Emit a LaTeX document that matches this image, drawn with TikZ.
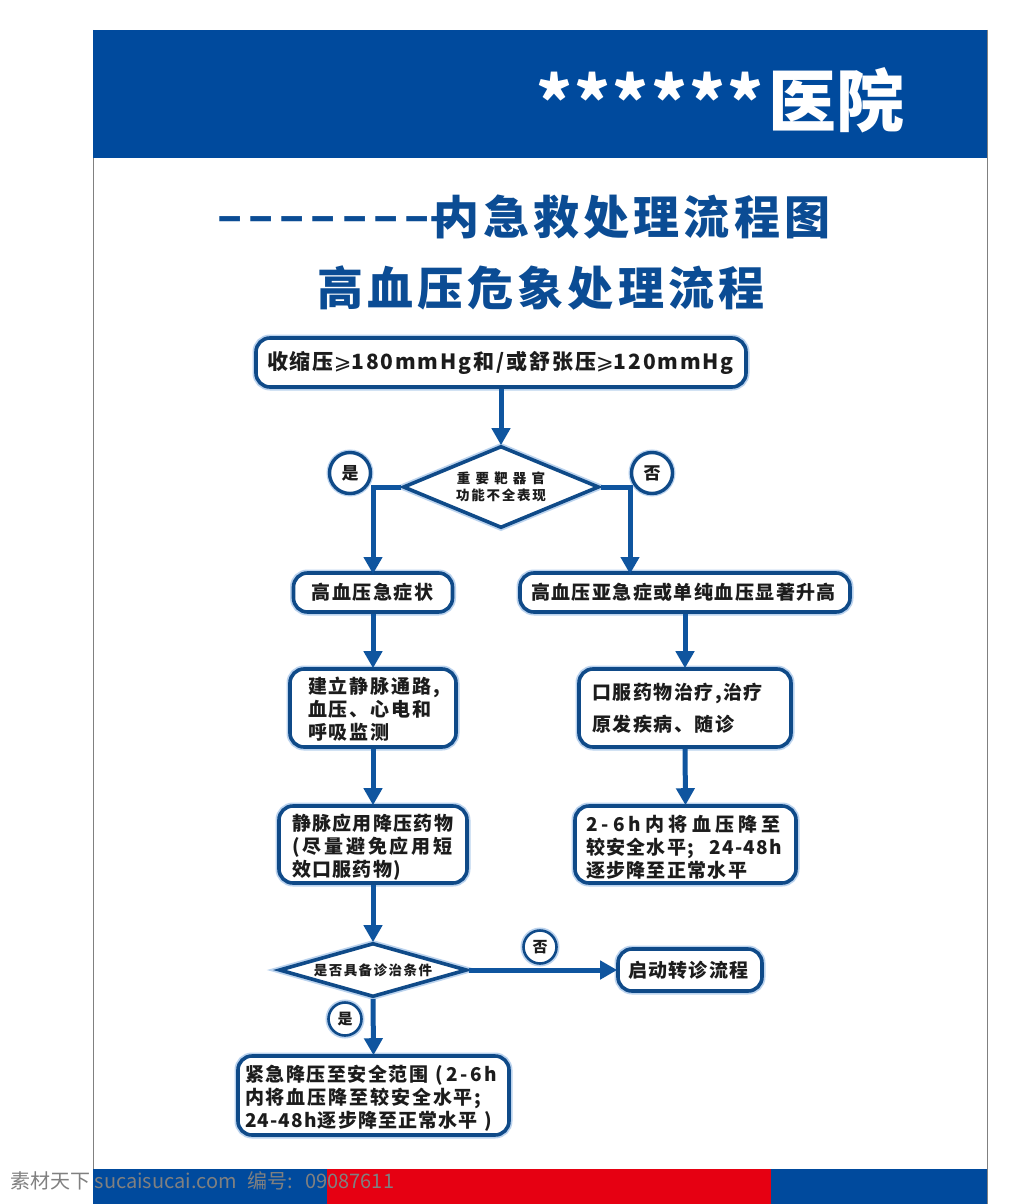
\documentclass[tikz,border=0pt]{standalone}
\usepackage{fontspec}
\usetikzlibrary{arrows.meta,shapes.geometric}
\newfontfamily\cjk{Noto Sans CJK SC}
\newfontfamily\djv{DejaVu Sans}
\newcommand{\lsp}[2]{{\addfontfeature{LetterSpace=#1}#2}}
\newcommand{\gesym}{{\djv\mdseries ⩾}}
\newcommand{\dn}[1]{\rule{0pt}{#1pt}}
\definecolor{hdblue}{HTML}{004A9D}
\definecolor{ttblue}{HTML}{0B4C94}
\definecolor{edgeblue}{HTML}{0F4A88}
\definecolor{arrblue}{HTML}{0F559F}
\definecolor{glowblue}{HTML}{BBD3EE}
\definecolor{inkk}{HTML}{1C1C1C}
\definecolor{redbar}{HTML}{E60012}
\tikzset{
  glow/.style={preaction={draw=glowblue,line width=7pt}},
  flowbox/.style={draw=edgeblue,line width=3.6pt,fill=white,rounded corners=14pt,glow,
    align=left,inner ysep=0pt,text=inkk,
    font=\cjk\bfseries\fontsize{19}{23}\selectfont},
  flowdia/.style={diamond,draw=edgeblue,line width=3.6pt,fill=white,glow,align=center,inner sep=0pt,text=inkk},
  flowcirc/.style={circle,draw=edgeblue,line width=3.4pt,fill=white,inner sep=0pt,text=inkk,
    preaction={draw=glowblue,line width=6pt},font=\cjk\bfseries\fontsize{17}{20}\selectfont},
  flowarr/.style={draw=arrblue,line width=5pt,-{Triangle[length=17pt,width=18pt]},shorten >=-1pt},
  titletext/.style={text=ttblue,inner sep=0pt,font=\cjk\bfseries\fontsize{46}{50}\selectfont}
}
\begin{document}
\begin{tikzpicture}[x=1pt,y=-1pt]
\useasboundingbox (0,0) rectangle (1024,1204);
\fill[white] (0,0) rectangle (1024,1204);
% page frame and bands
\draw[gray,line width=1pt] (93,30) -- (93,1204);
\draw[gray,line width=1pt] (987,30) -- (987,1204);
\fill[hdblue] (93,30) rectangle (987,158);
\fill[hdblue] (93,1169) rectangle (327,1204);
\fill[redbar] (327,1169) rectangle (771,1204);
\fill[hdblue] (771,1169) rectangle (987,1204);
% header
\node[anchor=west,inner sep=0pt,text=white,font=\cjk\bfseries\fontsize{68}{72}\selectfont] (hdstar) at (536,100) {\lsp{3.5}{******}};
\node[anchor=west,inner sep=0pt,text=white,font=\cjk\bfseries\fontsize{68}{72}\selectfont] (hdname) at (768,100) {医院};
% titles
\node[titletext,anchor=west] (t1) at (217,225) {\lsp{13}{–––––––}–};
\node[titletext,anchor=west] (t1b) at (433,217) {\lsp{9}{内急救处理流程图}};
\node[titletext,anchor=west] (t2) at (317,288) {\lsp{9}{高血压危象处理流程}};
% boxes
\node[flowbox,minimum width=490pt,minimum height=49pt,text width=476pt,inner xsep=7pt,font=\cjk\bfseries\fontsize{21}{24}\selectfont] (b1) at (501,362.5)
  {\hspace{4pt}\lsp{9}{收缩压\gesym{}180mmHg和/或舒张压\gesym{}120mmHg}};
\node[flowdia,minimum width=196pt,minimum height=82pt,aspect=2.4,font=\cjk\bfseries\fontsize{13.5}{17}\selectfont] (d1) at (501,487)
  {\lsp{38}{重要靶器官}\\\lsp{13}{功能不全表现}};
\node[flowcirc,minimum size=41pt] (yes1) at (350,473) {是};
\node[flowcirc,minimum size=41pt] (no1) at (652,473) {否};
\node[flowbox,minimum width=159pt,minimum height=39pt,text width=123pt,inner xsep=18pt] (b2) at (373,592.5) {\lsp{8}{高血压急症状}};
\node[flowbox,minimum width=330pt,minimum height=39pt,text width=308pt,inner xsep=11pt] (b3) at (685,592.5) {\lsp{7.5}{高血压亚急症或单纯血压显著升高}};
\node[flowbox,minimum width=166pt,minimum height=78pt,text width=130pt,inner xsep=18pt] (b4) at (373,708)
  {\dn{19}\lsp{10}{建立静脉通路,}\\\lsp{10}{血压、心电和}\\\lsp{10}{呼吸监测}};
\node[flowbox,minimum width=212pt,minimum height=78pt,text width=186pt,inner xsep=13pt,font=\cjk\bfseries\fontsize{19}{32}\selectfont] (b5) at (685,708)
  {\lsp{8}{口服药物治疗,治疗}\\\lsp{8}{原发疾病、随诊}};
\node[flowbox,minimum width=188pt,minimum height=77pt,text width=162pt,inner xsep=13pt] (b6) at (373,844.5)
  {\dn{21}\lsp{7}{静脉应用降压药物}\\\lsp{15}{(尽量避免应用短}\\\lsp{7}{效口服药物)}};
\node[flowbox,minimum width=221pt,minimum height=77pt,text width=199pt,inner xsep=11pt] (b7) at (685.5,844.5)
  {\dn{21}\lsp{22}{2-6h内将血压降至}\\\lsp{7}{较安全水平;}\hspace{15pt}\lsp{7}{24-48h}\\\lsp{7}{逐步降至正常水平}};
\node[flowdia,minimum width=188pt,minimum height=54pt,aspect=3.4,font=\cjk\bfseries\fontsize{13.5}{16}\selectfont] (d2) at (373,970)
  {\lsp{11}{是否具备诊治条件}};
\node[flowcirc,minimum size=33pt,line width=2.6pt,font=\cjk\bfseries\fontsize{15}{18}\selectfont] (no2) at (540,947) {否};
\node[flowcirc,minimum size=33pt,line width=2.6pt,font=\cjk\bfseries\fontsize{15}{18}\selectfont] (yes2) at (345,1019) {是};
\node[flowbox,minimum width=140pt,minimum height=42pt,text width=124pt,inner xsep=10pt] (b8) at (690,970) {\lsp{7}{启动转诊流程}};
\node[flowbox,minimum width=271pt,minimum height=79pt,text width=257pt,inner xsep=7pt] (b9) at (373.5,1095.5)
  {\dn{21}\lsp{8}{紧急降压至安全范围}\hspace{7pt}(\hspace{4pt}\lsp{12}{2-6h}\\\lsp{10}{内将血压降至较安全水平;}\\\lsp{6}{24-48h逐步降至正常水平}\hspace{7pt})};
% connectors
\coordinate (jl) at (373,573);
\coordinate (jr) at (630,573);
\draw[flowarr] (b1.south) -- (d1.north);
\draw[flowarr] (d1.west) -| (jl);
\draw[flowarr] (d1.east) -| (jr);
\draw[flowarr] (b2.south) -- (b4.north);
\draw[flowarr] (b3.south) -- (b5.north);
\draw[flowarr] (b4.south) -- (b6.north);
\draw[flowarr] (b5.south) -- (b7.north);
\draw[flowarr] (b6.south) -- (d2.north);
\draw[flowarr] (d2.east) -- (b8.west);
\draw[flowarr] (d2.south) -- (b9.north);
% watermark
\node[anchor=west,inner sep=0pt,text=gray,font=\cjk\fontsize{20}{22}\selectfont] (wm) at (10,1181) {素材天下 sucaisucai.com\hspace{11pt}编号:\hspace{12pt}09087611};
\end{tikzpicture}
\end{document}
